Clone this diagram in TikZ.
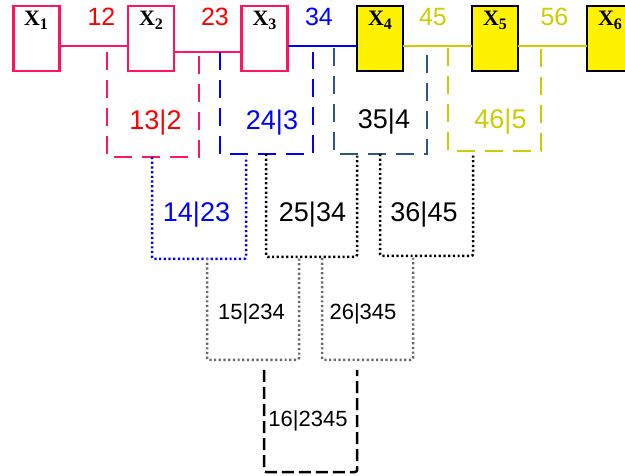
\documentclass[tikz,border=0pt]{standalone}
\usepackage{fontspec}
\setmainfont{Liberation Sans}
\newfontfamily\xfont{Liberation Serif}
\definecolor{crim}{RGB}{255,20,100}
\definecolor{slate}{RGB}{45,85,135}
\definecolor{olive}{RGB}{204,204,0}
\definecolor{grayd}{RGB}{105,105,105}
\begin{document}
\begin{tikzpicture}[x=1pt,y=-1pt,
  box/.style={line width=2.5pt, minimum width=46pt, minimum height=65pt, inner sep=0pt, outer sep=0pt},
  redbox/.style={box, draw=crim, fill=white},
  ybox/.style={box, draw=black, fill=yellow},
  xlab/.style={font=\xfont\bfseries\fontsize{22}{22}\selectfont, inner sep=0pt, anchor=base},
  toplab/.style={font=\fontsize{25}{25}\selectfont, inner sep=0pt, anchor=base},
  midlab/.style={font=\fontsize{27}{27}\selectfont, inner sep=0pt, anchor=base},
  lowlab/.style={font=\fontsize{22}{22}\selectfont, inner sep=0pt, anchor=base},
  frame/.style={inner sep=0pt, outer sep=0pt},
  conn/.style={line width=2.5pt},
  dashbr/.style={line width=2.5pt, dash pattern=on 18pt off 10pt},
  dotbr/.style={line width=2.5pt, dash pattern=on 2.2pt off 2.5pt, rounded corners=2pt},
  dashsm/.style={line width=2.5pt, dash pattern=on 12pt off 5pt, rounded corners=2pt}
]
\useasboundingbox (0,0) rectangle (625,476);
\clip (0,0) rectangle (625,476);

% top boxes
\node[redbox] (X1) at (36.5,38.5) {};
\node[redbox] (X2) at (151,38.5) {};
\node[redbox] (X3) at (264.5,38.5) {};
\node[ybox] (X4) at (380,38.5) {};
\node[ybox] (X5) at (495,38.5) {};
\node[ybox] (X6) at (610,38.5) {};
\node[xlab] (x1l) at (36,26) {X\raisebox{-0.3ex}{\fontsize{16}{16}\selectfont 1}};
\node[xlab] (x2l) at (151,26) {X\raisebox{-0.3ex}{\fontsize{16}{16}\selectfont 2}};
\node[xlab] (x3l) at (264.5,26) {X\raisebox{-0.3ex}{\fontsize{16}{16}\selectfont 3}};
\node[xlab] (x4l) at (380,26) {X\raisebox{-0.3ex}{\fontsize{16}{16}\selectfont 4}};
\node[xlab] (x5l) at (495,26) {X\raisebox{-0.3ex}{\fontsize{16}{16}\selectfont 5}};
\node[xlab] (x6l) at (610,26) {X\raisebox{-0.3ex}{\fontsize{16}{16}\selectfont 6}};

% connecting lines
\coordinate (hA) at (0,46);
\coordinate (hB) at (0,52);
\draw[conn, crim] (X1.east |- hA) -- (X2.west |- hA);
\draw[conn, crim] (X2.east |- hB) -- (X3.west |- hB);
\draw[conn, blue] (X3.east |- hA) -- (X4.west |- hA);
\draw[conn, olive] (X4.east |- hA) -- (X5.west |- hA);
\draw[conn, olive] (X5.east |- hA) -- (X6.west |- hA);

% top labels
\node[toplab, red] (l12) at (101.5,26) {12};
\node[toplab, red] (l23) at (215,26) {23};
\node[toplab, blue] (l34) at (319,26) {34};
\node[toplab, olive] (l45) at (433,26) {45};
\node[toplab, olive] (l56) at (554.5,26) {56};

% level 1 frames
\node[frame, minimum width=92pt, minimum height=105pt] (f132) at (153,104.5) {};
\node[frame, minimum width=93pt, minimum height=102pt] (f243) at (266.5,103) {};
\node[frame, minimum width=93pt, minimum height=106pt] (f354) at (380.5,101) {};
\node[frame, minimum width=93pt, minimum height=103pt] (f465) at (494.5,99.5) {};
\draw[dashbr, crim] (f132.north west) |- (f132.south east) -- (f132.north east);
\draw[dashbr, blue] (f243.north west) |- (f243.south east) -- (f243.north east);
\draw[dashbr, slate] (f354.north west) |- (f354.south east) -- (f354.north east);
\draw[dashbr, olive] (f465.north west) |- (f465.south east) -- (f465.north east);
\node[midlab, red] (t132) at (155.5,130) {13|2};
\node[midlab, blue] (t243) at (272,130) {24|3};
\node[midlab, black] (t354) at (384,129) {35|4};
\node[midlab, olive] (t465) at (500.5,129) {46|5};

% level 2 frames
\node[frame, minimum width=94pt, minimum height=102pt] (f1423) at (199,208) {};
\node[frame, minimum width=91pt, minimum height=103pt] (f2534) at (311.5,205.5) {};
\node[frame, minimum width=93pt, minimum height=102pt] (f3645) at (426.5,205) {};
\draw[dotbr, blue] (f1423.north west) |- (f1423.south east) -- (f1423.north east);
\draw[dotbr, black] (f2534.north west) |- (f2534.south east) -- (f2534.north east);
\draw[dotbr, black] (f3645.north west) |- (f3645.south east) -- (f3645.north east);
\node[midlab, blue] (t1423) at (196.5,222) {14|23};
\node[midlab, black] (t2534) at (312.5,222) {25|34};
\node[midlab, black] (t3645) at (424,222) {36|45};

% level 3 frames
\node[frame, minimum width=92pt, minimum height=102pt] (f15) at (253,309) {};
\node[frame, minimum width=91pt, minimum height=102pt] (f26) at (367.5,309) {};
\draw[dotbr, grayd] (f15.north west) |- (f15.south east) -- (f15.north east);
\draw[dotbr, grayd] (f26.north west) |- (f26.south east) -- (f26.north east);
\node[lowlab, black] (t15) at (251.5,320) {15|234};
\node[lowlab, black] (t26) at (363,320) {26|345};

% level 4 frame
\node[frame, minimum width=93pt, minimum height=102pt] (f16) at (310.5,421) {};
\draw[dashsm, black] (f16.north west) |- (f16.south east) -- (f16.north east);
\node[lowlab, black] (t16) at (308,426) {16|2345};
\end{tikzpicture}
\end{document}
